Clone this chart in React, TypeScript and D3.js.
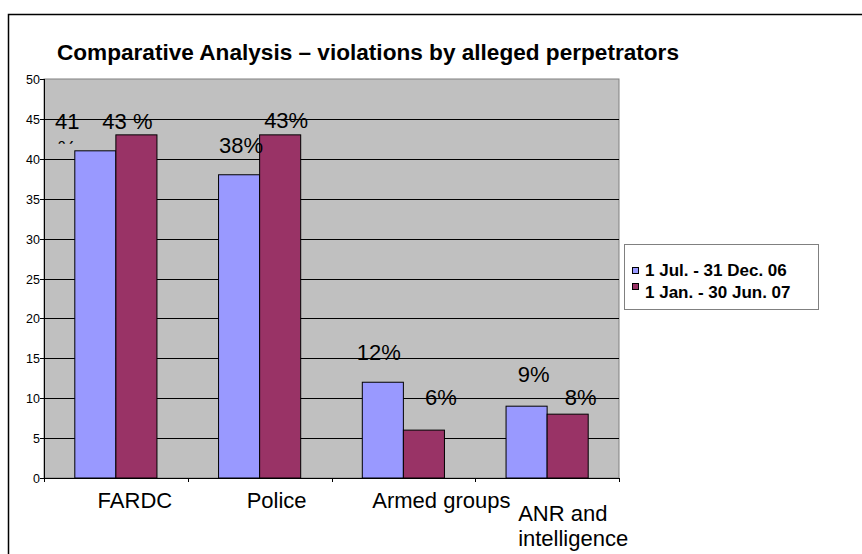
import React, { useEffect, useRef } from 'react';
import * as d3 from 'd3';

const categories = ['FARDC', 'Police', 'Armed groups', 'ANR and intelligence'];
const seriesNames = ['1 Jul. - 31 Dec. 06', '1 Jan. - 30 Jun. 07'];
const julDec06 = [41, 38, 12, 9];
const janJun07 = [43, 43, 6, 8];
const julDec06Labels = ['41\n%', '38%', '12%', '9%'];
const janJun07Labels = ['43 %', '43%', '6%', '8%'];
const yTicks = [0, 5, 10, 15, 20, 25, 30, 35, 40, 45, 50];

// hand-placed label nudges (px) as in the original sheet
const labelNudge = [
  [[-28, -22], [2, -22], [-4, -22], [7, -24]],
  [[-9, -6], [6, -6.5], [17, -25], [13, -9]],
];
const catLabelLayout = [
  { dx: 19, y: 508, anchor: 'middle' },
  { dx: 17, y: 508, anchor: 'middle' },
  { dx: 38, y: 508, anchor: 'middle' },
  { dx: -29, y: 521, anchor: 'start' },
];

const colors = ['#9999FF', '#993366'];
const FONT = '"Liberation Sans", Arial, sans-serif';

const App = () => {
  const svgRef = useRef<SVGSVGElement>(null);

  useEffect(() => {
    const svg = d3.select(svgRef.current);
    svg.selectAll('*').remove();

    const width = 862;
    const height = 554;
    const plot = { left: 44, right: 619, top: 79, bottom: 478 };

    svg.attr('width', width).attr('height', height);

    // outer frame
    svg.append('rect')
      .attr('x', 8.5).attr('y', 14.5)
      .attr('width', width + 10).attr('height', height + 10)
      .attr('fill', '#fff').attr('stroke', '#000').attr('stroke-width', 1.5);

    svg.append('text')
      .attr('x', 57).attr('y', 60)
      .attr('font-family', FONT).attr('font-weight', 'bold').attr('font-size', 22.6)
      .text('Comparative Analysis – violations by alleged perpetrators');

    const x = d3.scaleBand().domain(categories).range([plot.left, plot.right]);
    const xs = d3.scaleBand().domain(seriesNames).range([0, x.bandwidth()]).paddingOuter(0.75);
    const y = d3.scaleLinear().domain([0, 50]).range([plot.bottom, plot.top]);

    svg.append('rect')
      .attr('x', plot.left).attr('y', plot.top)
      .attr('width', plot.right - plot.left).attr('height', plot.bottom - plot.top)
      .attr('fill', '#C0C0C0').attr('stroke', '#808080');

    svg.append('g')
      .selectAll('line')
      .data(yTicks.slice(1, -1))
      .join('line')
      .attr('x1', plot.left).attr('x2', plot.right)
      .attr('y1', d => Math.round(y(d)) + 0.5).attr('y2', d => Math.round(y(d)) + 0.5)
      .attr('stroke', '#000');

    const series = [julDec06, janJun07];
    const labels = [julDec06Labels, janJun07Labels];

    series.forEach((vals, si) => {
      svg.append('g')
        .selectAll('rect')
        .data(vals)
        .join('rect')
        .attr('x', (d, i) => x(categories[i])! + xs(seriesNames[si])!)
        .attr('y', d => y(d))
        .attr('width', xs.bandwidth())
        .attr('height', d => y(0) - y(d))
        .attr('fill', colors[si])
        .attr('stroke', '#000')
        .attr('stroke-width', 1);
    });

    const defs = svg.append('defs');

    series.forEach((vals, si) => {
      vals.forEach((v, i) => {
        const cx = x(categories[i])! + xs(seriesNames[si])! + xs.bandwidth() / 2 + labelNudge[si][i][0];
        const by = y(v) + labelNudge[si][i][1];
        const id = `lc-${si}-${i}`;
        defs.append('clipPath').attr('id', id)
          .append('rect')
          .attr('x', cx - 40).attr('y', by - 22).attr('width', 80).attr('height', 37);
        const t = svg.append('text')
          .attr('clip-path', `url(#${id})`)
          .attr('font-family', FONT).attr('font-size', 22)
          .attr('text-anchor', 'middle');
        labels[si][i].split('\n').forEach((line, li) => {
          t.append('tspan').attr('x', cx).attr('y', by + li * 27).text(line);
        });
      });
    });

    // y axis
    const yAxis = svg.append('g');
    yAxis.append('line')
      .attr('x1', plot.left + 0.5).attr('x2', plot.left + 0.5)
      .attr('y1', plot.top).attr('y2', plot.bottom)
      .attr('stroke', '#000');
    yAxis.selectAll('.tick')
      .data(yTicks)
      .join('g')
      .attr('transform', d => `translate(0,${Math.round(y(d)) + 0.5})`)
      .call(g => g.append('line').attr('x1', plot.left - 4).attr('x2', plot.left).attr('stroke', '#000'))
      .call(g => g.append('text')
        .attr('x', plot.left - 4).attr('dy', '0.36em')
        .attr('text-anchor', 'end')
        .attr('font-family', FONT).attr('font-size', 12.5)
        .text(d => d));

    // x axis
    const xAxis = svg.append('g');
    xAxis.append('line')
      .attr('x1', plot.left).attr('x2', plot.right)
      .attr('y1', plot.bottom + 0.5).attr('y2', plot.bottom + 0.5)
      .attr('stroke', '#000');
    const bounds = [...categories.map(c => x(c)!), plot.right];
    xAxis.selectAll('.tick')
      .data(bounds)
      .join('line')
      .attr('x1', d => Math.round(d) + 0.5).attr('x2', d => Math.round(d) + 0.5)
      .attr('y1', plot.bottom).attr('y2', plot.bottom + 4)
      .attr('stroke', '#000');
    categories.forEach((c, i) => {
      const lay = catLabelLayout[i];
      const t = xAxis.append('text')
        .attr('font-family', FONT).attr('font-size', 22)
        .attr('text-anchor', lay.anchor);
      const px = x(c)! + x.bandwidth() / 2 + lay.dx;
      const lines = c === 'ANR and intelligence' ? ['ANR and', 'intelligence'] : [c];
      lines.forEach((line, li) => {
        t.append('tspan').attr('x', px).attr('y', lay.y + li * 25).text(line);
      });
    });

    // legend
    const legend = svg.append('g');
    legend.append('rect')
      .attr('x', 624.5).attr('y', 244.5).attr('width', 194).attr('height', 65)
      .attr('fill', '#fff').attr('stroke', '#808080');
    seriesNames.forEach((s, i) => {
      legend.append('rect')
        .attr('x', 632.5).attr('y', 267.5 + i * 16).attr('width', 6).attr('height', 6)
        .attr('fill', colors[i]).attr('stroke', '#000');
      legend.append('text')
        .attr('x', 645).attr('y', 276 + i * 22)
        .attr('font-family', FONT).attr('font-weight', 'bold').attr('font-size', 17)
        .text(s);
    });
  }, []);

  return <svg ref={svgRef} style={{ position: 'absolute', left: 0, top: 0 }}></svg>;
};

export default App;
